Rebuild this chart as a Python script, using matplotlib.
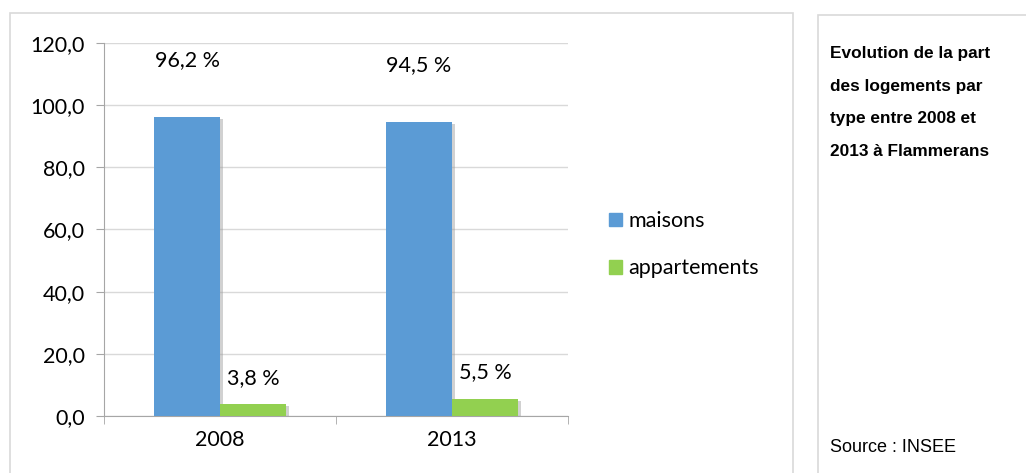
import numpy as np
import matplotlib.pyplot as plt
from matplotlib.patches import Rectangle, Patch
import matplotlib.patheffects as pe

# données : part des logements par type (%)
annees = ['2008', '2013']
maisons = [96.2, 94.5]
appartements = [3.8, 5.5]
yticks = [0, 20, 40, 60, 80, 100, 120]

bleu = '#5B9BD5'
vert = '#92D050'
gris = '#D9D9D9'

plt.rcParams['font.family'] = ['Lato', 'DejaVu Sans']
fs = 15.5

fig = plt.figure(figsize=(10.26, 4.73), dpi=100)

# cadres gris autour du graphique et du panneau de droite
fig.patches.append(Rectangle((10/1026, -0.05), 783/1026, 1.05 - 13/473,
                             transform=fig.transFigure, fill=False,
                             edgecolor=gris, linewidth=1.2))
fig.patches.append(Rectangle((818/1026, -0.05), 0.3, 1.05 - 15/473,
                             transform=fig.transFigure, fill=False,
                             edgecolor=gris, linewidth=1.2))

ax = fig.add_axes([104/1026, 1 - 416/473, 464/1026, 373/473])

x = np.arange(len(annees))
w = 0.284
ombre = [pe.SimplePatchShadow(offset=(2, -1.5), shadow_rgbFace='#999999', alpha=0.45), pe.Normal()]
b1 = ax.bar(x - w/2, maisons, w, color=bleu, zorder=3)
b2 = ax.bar(x + w/2, appartements, w, color=vert, zorder=3)
for b in list(b1) + list(b2):
    b.set_path_effects(ombre)

def fmt(v):
    return ('%.1f %%' % v).replace('.', ',')

for xi, v in zip(x - w/2, maisons):
    ax.annotate(fmt(v), (xi, v), xytext=(0, 41), textcoords='offset points',
                ha='center', va='center', fontsize=fs, color='#000000')
for xi, v in zip(x + w/2, appartements):
    ax.annotate(fmt(v), (xi, v), xytext=(0, 19), textcoords='offset points',
                ha='center', va='center', fontsize=fs, color='#000000')

ax.set_xlim(-0.5, 1.5)
ax.set_ylim(0, 120)
ax.set_yticks(yticks)
ax.set_yticklabels([('%.1f' % t).replace('.', ',') for t in yticks], fontsize=fs)
ax.set_xticks(x)
ax.set_xticklabels(annees, fontsize=fs)
ax.tick_params(axis='x', length=0, pad=10)
ax.set_xticks([-0.5, 0.5, 1.5], minor=True)
ax.tick_params(axis='x', which='minor', length=6, color='#A6A6A6', direction='out')
ax.tick_params(axis='y', length=6, color='#A6A6A6', pad=8)
ax.grid(axis='y', color=gris, linewidth=1, zorder=0)
for s in ['top', 'right']:
    ax.spines[s].set_visible(False)
for s in ['left', 'bottom']:
    ax.spines[s].set_color('#A6A6A6')

poignees = [Patch(color=bleu, label='maisons'), Patch(color=vert, label='appartements')]
fig.legend(handles=poignees, loc='upper left', bbox_to_anchor=(609/1026, 1 - 211/473),
           frameon=False, fontsize=fs, handlelength=0.6, handleheight=0.6,
           handletextpad=0.3, labelspacing=1.27, borderaxespad=0, borderpad=0)

# panneau de droite
titre = ['Evolution de la part', 'des logements par', 'type entre 2008 et', '2013 à Flammerans']
for i, ligne in enumerate(titre):
    fig.text(830/1026, 1 - (53 + 33*i)/473, ligne, fontsize=12.4, fontweight='bold',
             family=['Liberation Sans', 'DejaVu Sans'], va='center')
fig.text(830/1026, 1 - 447/473, 'Source : INSEE', fontsize=13,
         family=['Liberation Sans', 'DejaVu Sans'], va='center')

fig.savefig('out.png', dpi=100)
